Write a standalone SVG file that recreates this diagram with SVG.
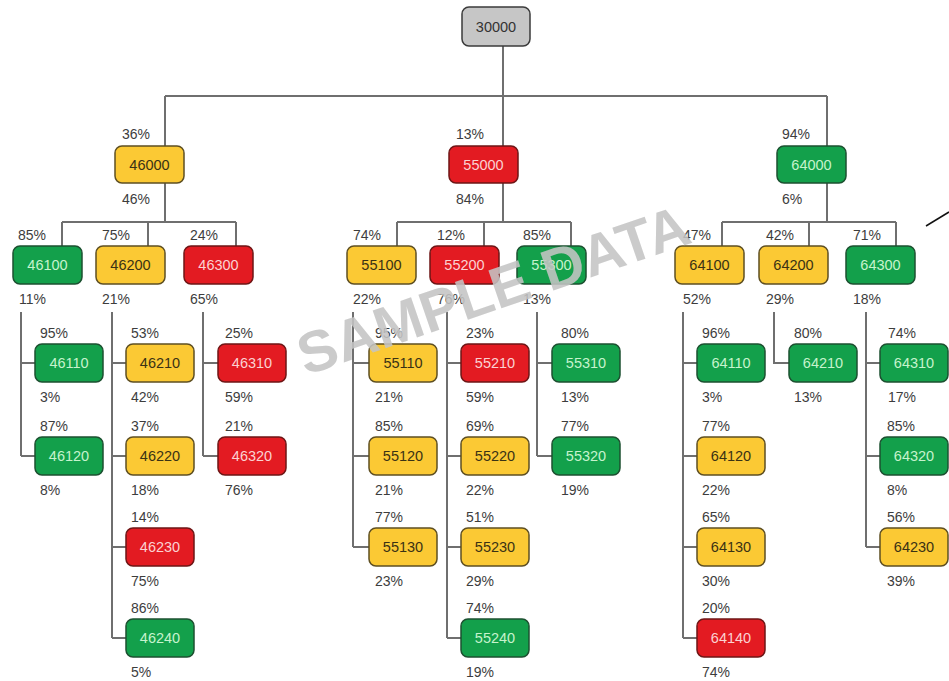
<svg xmlns="http://www.w3.org/2000/svg" width="949" height="681" viewBox="0 0 949 681">
<style>
text{font-family:"Liberation Sans",Arial,Helvetica,sans-serif}
rect{stroke-width:1.5}
.y rect{fill:#fbc934;stroke:#5e4f22}
.g rect{fill:#13a04b;stroke:#1c5030}
.r rect{fill:#e31b22;stroke:#6e1616}
.k rect{fill:#c6c6c6;stroke:#3b3b3b}
.t{font-size:14.5px;text-anchor:middle}
.y .t{fill:#3a3214}
.g .t{fill:#c6f3cd}
.r .t{fill:#fbd2d2}
.k .t{fill:#333}
.p{font-size:14px;fill:#3d3d3d}
#connectors path{fill:none;stroke:#6f6f6f;stroke-width:2}
.wm{font-size:58px;font-weight:bold;fill:#c4c4c4;fill-opacity:0.88;text-anchor:middle}
</style>

<!-- tree connectors -->
<g id="connectors">
  <path d="M503,46 V146 M165,96 H827 M165,96 V146 M827,96 V146"/>
  <path d="M165,183 V222 M62,222 H236 M62,222 V246 M148,222 V246 M236,222 V246"/>
  <path d="M503,183 V222 M397,222 H571 M397,222 V246 M484,222 V246 M571,222 V246"/>
  <path d="M827,183 V222 M722,222 H896 M722,222 V246 M809,222 V246 M896,222 V246"/>
  <path d="M21,312 V456 M21,363 H35 M21,456 H35"/>
  <path d="M112,312 V638 M112,363 H126 M112,456 H126 M112,547 H126 M112,638 H126"/>
  <path d="M203,312 V456 M203,363 H218 M203,456 H218"/>
  <path d="M353,312 V547 M353,363 H369 M353,456 H369 M353,547 H369"/>
  <path d="M447,312 V638 M447,363 H461 M447,456 H461 M447,547 H461 M447,638 H461"/>
  <path d="M537,312 V456 M537,363 H552 M537,456 H552"/>
  <path d="M683,312 V638 M683,363 H697 M683,456 H697 M683,547 H697 M683,638 H697"/>
  <path d="M774,312 V363 H789"/>
  <path d="M866,312 V547 M866,363 H880 M866,456 H880 M866,547 H880"/>
</g>
<line x1="926" y1="226" x2="949" y2="212" stroke="#111" stroke-width="1.5"/>

<!-- root -->
<g id="n30000" class="k"><rect x="462" y="7" width="68" height="39" rx="7"/><text class="t" x="496" y="31.5">30000</text></g>

<!-- level 1 -->
<g id="n46000" class="y"><rect x="115" y="146" width="69" height="37" rx="7"/><text class="t" x="149.5" y="169.5">46000</text><text class="p" x="122" y="139">36%</text><text class="p" x="122" y="204">46%</text></g>
<g id="n55000" class="r"><rect x="449" y="146" width="69" height="37" rx="7"/><text class="t" x="483.5" y="169.5">55000</text><text class="p" x="456" y="139">13%</text><text class="p" x="456" y="204">84%</text></g>
<g id="n64000" class="g"><rect x="777" y="146" width="69" height="37" rx="7"/><text class="t" x="811.5" y="169.5">64000</text><text class="p" x="782" y="139">94%</text><text class="p" x="782" y="204">6%</text></g>

<!-- level 2 -->
<g id="n46100" class="g"><rect x="13" y="246" width="69" height="38" rx="7"/><text class="t" x="47.5" y="270">46100</text><text class="p" x="18" y="239.5">85%</text><text class="p" x="19" y="304">11%</text></g>
<g id="n46200" class="y"><rect x="96" y="246" width="69" height="38" rx="7"/><text class="t" x="130.5" y="270">46200</text><text class="p" x="102" y="239.5">75%</text><text class="p" x="102" y="304">21%</text></g>
<g id="n46300" class="r"><rect x="184" y="246" width="69" height="38" rx="7"/><text class="t" x="218.5" y="270">46300</text><text class="p" x="190" y="239.5">24%</text><text class="p" x="190" y="304">65%</text></g>
<g id="n55100" class="y"><rect x="347" y="246" width="69" height="38" rx="7"/><text class="t" x="381.5" y="270">55100</text><text class="p" x="353" y="239.5">74%</text><text class="p" x="353" y="304">22%</text></g>
<g id="n55200" class="r"><rect x="430" y="246" width="69" height="38" rx="7"/><text class="t" x="464.5" y="270">55200</text><text class="p" x="437" y="239.5">12%</text><text class="p" x="437" y="304">76%</text></g>
<g id="n55300" class="g"><rect x="517" y="246" width="69" height="38" rx="7"/><text class="t" x="551.5" y="270">55300</text><text class="p" x="523" y="239.5">85%</text><text class="p" x="523" y="304">13%</text></g>
<g id="n64100" class="y"><rect x="675" y="246" width="69" height="38" rx="7"/><text class="t" x="709.5" y="270">64100</text><text class="p" x="683" y="239.5">47%</text><text class="p" x="683" y="304">52%</text></g>
<g id="n64200" class="y"><rect x="759" y="246" width="69" height="38" rx="7"/><text class="t" x="793.5" y="270">64200</text><text class="p" x="766" y="239.5">42%</text><text class="p" x="766" y="304">29%</text></g>
<g id="n64300" class="g"><rect x="846" y="246" width="69" height="38" rx="7"/><text class="t" x="880.5" y="270">64300</text><text class="p" x="853" y="239.5">71%</text><text class="p" x="853" y="304">18%</text></g>

<!-- level 3 -->
<g id="n46110" class="g"><rect x="35" y="344" width="68" height="38" rx="7"/><text class="t" x="69" y="368">46110</text><text class="p" x="40" y="337.5">95%</text><text class="p" x="40" y="402">3%</text></g>
<g id="n46120" class="g"><rect x="35" y="437" width="68" height="38" rx="7"/><text class="t" x="69" y="461">46120</text><text class="p" x="40" y="430.5">87%</text><text class="p" x="40" y="495">8%</text></g>
<g id="n46210" class="y"><rect x="126" y="344" width="68" height="38" rx="7"/><text class="t" x="160" y="368">46210</text><text class="p" x="131" y="337.5">53%</text><text class="p" x="131" y="402">42%</text></g>
<g id="n46220" class="y"><rect x="126" y="437" width="68" height="38" rx="7"/><text class="t" x="160" y="461">46220</text><text class="p" x="131" y="430.5">37%</text><text class="p" x="131" y="495">18%</text></g>
<g id="n46230" class="r"><rect x="126" y="528" width="68" height="38" rx="7"/><text class="t" x="160" y="552">46230</text><text class="p" x="131" y="521.5">14%</text><text class="p" x="131" y="586">75%</text></g>
<g id="n46240" class="g"><rect x="126" y="619" width="68" height="38" rx="7"/><text class="t" x="160" y="643">46240</text><text class="p" x="131" y="612.5">86%</text><text class="p" x="131" y="677">5%</text></g>
<g id="n46310" class="r"><rect x="218" y="344" width="68" height="38" rx="7"/><text class="t" x="252" y="368">46310</text><text class="p" x="225" y="337.5">25%</text><text class="p" x="225" y="402">59%</text></g>
<g id="n46320" class="r"><rect x="218" y="437" width="68" height="38" rx="7"/><text class="t" x="252" y="461">46320</text><text class="p" x="225" y="430.5">21%</text><text class="p" x="225" y="495">76%</text></g>

<g id="n55110" class="y"><rect x="369" y="344" width="68" height="38" rx="7"/><text class="t" x="403" y="368">55110</text><text class="p" x="375" y="337.5">95%</text><text class="p" x="375" y="402">21%</text></g>
<g id="n55120" class="y"><rect x="369" y="437" width="68" height="38" rx="7"/><text class="t" x="403" y="461">55120</text><text class="p" x="375" y="430.5">85%</text><text class="p" x="375" y="495">21%</text></g>
<g id="n55130" class="y"><rect x="369" y="528" width="68" height="38" rx="7"/><text class="t" x="403" y="552">55130</text><text class="p" x="375" y="521.5">77%</text><text class="p" x="375" y="586">23%</text></g>
<g id="n55210" class="r"><rect x="461" y="344" width="68" height="38" rx="7"/><text class="t" x="495" y="368">55210</text><text class="p" x="466" y="337.5">23%</text><text class="p" x="466" y="402">59%</text></g>
<g id="n55220" class="y"><rect x="461" y="437" width="68" height="38" rx="7"/><text class="t" x="495" y="461">55220</text><text class="p" x="466" y="430.5">69%</text><text class="p" x="466" y="495">22%</text></g>
<g id="n55230" class="y"><rect x="461" y="528" width="68" height="38" rx="7"/><text class="t" x="495" y="552">55230</text><text class="p" x="466" y="521.5">51%</text><text class="p" x="466" y="586">29%</text></g>
<g id="n55240" class="g"><rect x="461" y="619" width="68" height="38" rx="7"/><text class="t" x="495" y="643">55240</text><text class="p" x="466" y="612.5">74%</text><text class="p" x="466" y="677">19%</text></g>
<g id="n55310" class="g"><rect x="552" y="344" width="68" height="38" rx="7"/><text class="t" x="586" y="368">55310</text><text class="p" x="561" y="337.5">80%</text><text class="p" x="561" y="402">13%</text></g>
<g id="n55320" class="g"><rect x="552" y="437" width="68" height="38" rx="7"/><text class="t" x="586" y="461">55320</text><text class="p" x="561" y="430.5">77%</text><text class="p" x="561" y="495">19%</text></g>

<g id="n64110" class="g"><rect x="697" y="344" width="68" height="38" rx="7"/><text class="t" x="731" y="368">64110</text><text class="p" x="702" y="337.5">96%</text><text class="p" x="702" y="402">3%</text></g>
<g id="n64120" class="y"><rect x="697" y="437" width="68" height="38" rx="7"/><text class="t" x="731" y="461">64120</text><text class="p" x="702" y="430.5">77%</text><text class="p" x="702" y="495">22%</text></g>
<g id="n64130" class="y"><rect x="697" y="528" width="68" height="38" rx="7"/><text class="t" x="731" y="552">64130</text><text class="p" x="702" y="521.5">65%</text><text class="p" x="702" y="586">30%</text></g>
<g id="n64140" class="r"><rect x="697" y="619" width="68" height="38" rx="7"/><text class="t" x="731" y="643">64140</text><text class="p" x="702" y="612.5">20%</text><text class="p" x="702" y="677">74%</text></g>
<g id="n64210" class="g"><rect x="789" y="344" width="68" height="38" rx="7"/><text class="t" x="823" y="368">64210</text><text class="p" x="794" y="337.5">80%</text><text class="p" x="794" y="402">13%</text></g>
<g id="n64310" class="g"><rect x="880" y="344" width="68" height="38" rx="7"/><text class="t" x="914" y="368">64310</text><text class="p" x="888" y="337.5">74%</text><text class="p" x="888" y="402">17%</text></g>
<g id="n64320" class="g"><rect x="880" y="437" width="68" height="38" rx="7"/><text class="t" x="914" y="461">64320</text><text class="p" x="887" y="430.5">85%</text><text class="p" x="887" y="495">8%</text></g>
<g id="n64230" class="y"><rect x="880" y="528" width="68" height="38" rx="7"/><text class="t" x="914" y="552">64230</text><text class="p" x="887" y="521.5">56%</text><text class="p" x="887" y="586">39%</text></g>

<!-- watermark -->
<text class="wm" transform="translate(493,289) rotate(-19)" x="0" y="21">SAMPLE DATA</text>
</svg>
